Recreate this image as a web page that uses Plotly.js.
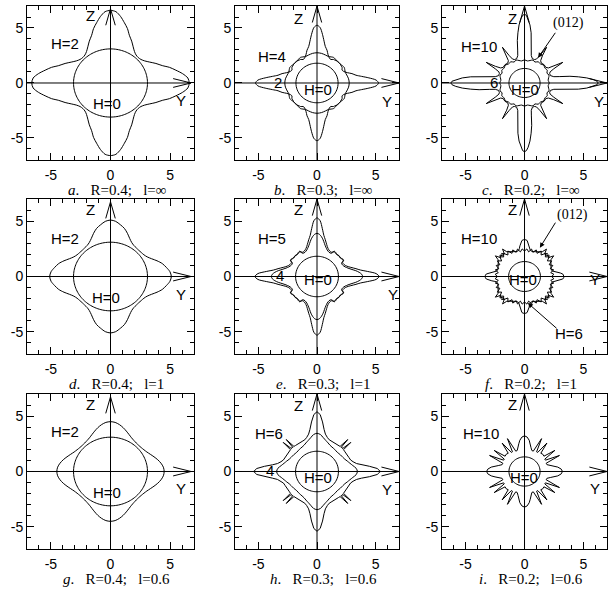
<!DOCTYPE html>
<html><head><meta charset="utf-8">
<script src="https://cdn.plot.ly/plotly-3.0.1.min.js"></script>
<style>html,body{margin:0;padding:0;background:#fff}#chart{width:608px;height:589px}</style>
</head><body><div id="chart"></div>
<script>
// ---- data (octant 0..45 deg measured from Y axis; 4-fold mirror symmetry) ----
const TICK_VALS = [-5, 0, 5];
const TICK_TEXT = ['-5', '0', '5'];
const MINOR_VALS = [-6, -4, -3, -2, -1, 1, 2, 3, 4, 6];

const ANG_FINE = [0, 5, 10, 15, 20, 25, 30, 35, 40, 45];

// a. R=0.4; l=inf
const rA_H0 = 3.1;
const angA_H2 = [0, 4, 8, 12, 16, 20, 25, 30, 35, 40, 45];
const rA_H2 = [6.6, 6.5, 6.1, 5.6, 5.15, 4.62, 4.2, 3.8, 3.5, 3.33, 3.28];
// b. R=0.3; l=inf
const rB_H0 = 1.8;
const angB_H2 = [0, 8, 16, 22, 27, 31, 36, 40, 45];
const rB_H2 = [2.75, 2.72, 2.64, 2.6, 2.66, 2.72, 2.68, 2.62, 2.62];
const angB_H4 = [0, 3, 6, 9, 12, 16, 20, 25, 29, 33, 37, 41, 45];
const rB_H4 = [5.25, 5.05, 4.45, 3.85, 3.4, 3.1, 2.75, 2.5, 2.44, 2.56, 2.58, 2.64, 2.64];
// c. R=0.2; l=inf
const rC_H0 = 1.32;
const angC_H6 = [0, 7, 13, 19, 25, 31, 38, 45];
const rC_H6 = [2.1, 2.02, 2.1, 2.2, 2.1, 2.25, 2.2, 2.3];
const angC_H10 = [0, 1.5, 3, 5, 7, 9, 11, 13, 17, 22, 25, 27.5, 30, 31.5, 34, 38, 45];
const rC_H10 = [6.25, 6.15, 5.85, 5.3, 4.6, 3.9, 3.05, 2.55, 2.3, 2.3, 2.4, 2.8, 3.75, 2.9, 2.45, 2.3, 2.35];
// d. R=0.4; l=1
const rD_H0 = 3.1;
const rD_H2 = [5.1, 5.0, 4.75, 4.5, 4.15, 3.8, 3.55, 3.42, 3.37, 3.35];
// e. R=0.3; l=1
const rE_H0 = 1.83;
const angE = [0, 3, 6, 9, 12, 16, 20, 25, 30, 33, 36, 40, 45];
const rE_H5 = [5.3, 5.05, 4.35, 3.75, 3.4, 3.0, 2.72, 2.55, 2.52, 2.72, 2.7, 2.62, 2.66];
const rE_H4 = [3.9, 3.82, 3.62, 3.35, 3.05, 2.75, 2.55, 2.42, 2.42, 2.66, 2.66, 2.6, 2.64];
// f. R=0.2; l=1
const rF_H0 = 1.35;
const angF_H6 = [0, 4.5, 9, 13.5, 18, 22.5, 27, 31.5, 36, 40.5, 45];
const rF_H6 = [2.3, 2.5, 2.25, 2.55, 2.3, 2.6, 2.35, 2.7, 2.4, 2.75, 2.5];
const angF_H10 = [0, 2, 4, 6, 8, 10, 12, 17, 22, 27, 31, 34, 37, 40, 43, 45];
const rF_H10 = [3.35, 3.32, 3.25, 3.05, 2.8, 2.55, 2.4, 2.35, 2.42, 2.5, 2.6, 2.7, 3.1, 2.65, 2.85, 2.65];
// g. R=0.4; l=0.6
const rG_H0 = 3.1;
const rG_H2 = [4.5, 4.45, 4.3, 4.1, 3.88, 3.68, 3.52, 3.42, 3.36, 3.34];
// h. R=0.3; l=0.6
const rH_H0 = 1.83;
const angH_H4 = [0, 5, 10, 15, 20, 25, 30, 37, 45];
const rH_H4 = [3.45, 3.35, 3.1, 2.9, 2.75, 2.62, 2.55, 2.5, 2.45];
const angH_H6 = [0, 3, 6, 9, 12, 16, 20, 25, 30, 35, 38, 41, 42.3, 43.5, 45];
const rH_H6 = [5.4, 5.15, 4.5, 3.85, 3.45, 3.2, 3.05, 3.0, 2.95, 2.95, 2.98, 3.0, 3.9, 3.0, 3.05];
// i. R=0.2; l=0.6
const rI_H0 = 1.32;
const angI_H10 = [0, 4, 8, 11, 14, 18, 22, 26, 30, 33, 36.5, 40, 45];
const rI_H10 = [3.22, 3.12, 2.85, 2.55, 2.25, 2.0, 1.98, 3.3, 2.05, 2.05, 3.2, 2.15, 2.2];

const PANEL_LETTERS = ['a', 'b', 'c', 'd', 'e', 'f', 'g', 'h', 'i'];
const PANEL_R = ['0.4', '0.3', '0.2', '0.4', '0.3', '0.2', '0.4', '0.3', '0.2'];
const PANEL_L = ['∞', '∞', '∞', '1', '1', '1', '0.6', '0.6', '0.6'];

// ---- helpers ----
function circle(r) { return { ang: ANG_FINE, r: ANG_FINE.map(() => r), shape: 'spline' }; }
function expand(ang, r) {
  const xs = [], ys = [], n = ang.length;
  const push = (deg, rad) => { const t = deg * Math.PI / 180; xs.push(rad * Math.cos(t)); ys.push(rad * Math.sin(t)); };
  for (let k = 0; k < 4; k++) {
    for (let i = 0; i < n; i++) push(90 * k + ang[i], r[i]);
    for (let i = n - 2; i >= 1; i--) push(90 * k + 90 - ang[i], r[i]);
  }
  xs.push(xs[0]); ys.push(ys[0]);
  return { xs, ys };
}

const X_DOM = [[0.0444, 0.3191], [0.3865, 0.6563], [0.727, 0.9984]];
const Y_DOM = [[0.7284, 0.9898], [0.399, 0.6621], [0.0679, 0.3311]];

const FONT = 'Liberation Sans, Arial, Helvetica, sans-serif';
const SERIF = 'Liberation Serif, Times New Roman, serif';
const SP = '\u00A0\u00A0\u00A0';

const panels = [
  { curves: [circle(rA_H0), { ang: angA_H2, r: rA_H2, shape: 'spline' }], tip: 6.75,
    labels: [['Z', -1.7, 6.1], ['H=2', -3.8, 3.6], ['H=0', -0.3, -1.85], ['Y', 5.9, -1.55]] },
  { curves: [circle(rB_H0), { ang: angB_H2, r: rB_H2, shape: 'spline' }, { ang: angB_H4, r: rB_H4, shape: 'spline' }], tip: 7,
    labels: [['Z', -1.6, 5.9], ['H=4', -3.8, 2.4], ['2', -3.3, 0.05], ['H=0', 0.1, -0.6], ['Y', 6.0, -1.66]] },
  { curves: [circle(rC_H0), { ang: angC_H6, r: rC_H6, shape: 'spline' }, { ang: angC_H10, r: rC_H10, shape: 'linear' }], tip: 7,
    labels: [['Z', -1.0, 5.9], ['H=10', -3.85, 3.3], ['6', -2.55, 0.05], ['H=0', 0.0, -0.6], ['Y', 6.3, -1.66]],
    note: { text: '(012)', x: 3.7, y: 5.5, ax: 2.7, ay: 4.7, hx: 1.15, hy: 2.3 } },
  { curves: [circle(rD_H0), { ang: ANG_FINE, r: rD_H2, shape: 'spline' }], tip: 6.75,
    labels: [['Z', -1.7, 6.06], ['H=2', -3.8, 3.45], ['H=0', -0.35, -1.9], ['Y', 5.9, -1.6]] },
  { curves: [circle(rE_H0), { ang: angE, r: rE_H5, shape: 'spline' }, { ang: angE, r: rE_H4, shape: 'spline' }], tip: 7,
    labels: [['Z', -1.6, 6.05], ['H=5', -3.84, 3.39], ['4', -3.16, 0.05], ['H=0', 0.1, -0.3], ['Y', 6.5, -1.6]] },
  { curves: [circle(rF_H0), { ang: angF_H6, r: rF_H6, shape: 'linear' }, { ang: angF_H10, r: rF_H10, shape: 'linear' }], tip: 7,
    labels: [['Z', -1.0, 6.05], ['H=10', -3.85, 3.4], ['H=0', -0.1, -0.25], ['Y', 6.0, -0.3], ['H=6', 3.75, -5.15]],
    note: { text: '(012)', x: 4.1, y: 5.6, ax: 2.7, ay: 5.0, hx: 1.3, hy: 2.6 },
    note2: { ax: 2.85, ay: -4.8, hx: 0.28, hy: -2.4 } },
  { curves: [circle(rG_H0), { ang: ANG_FINE, r: rG_H2, shape: 'spline' }], tip: 6.75,
    labels: [['Z', -1.7, 6.06], ['H=2', -3.8, 3.58], ['H=0', -0.28, -1.94], ['Y', 5.9, -1.57]] },
  { curves: [circle(rH_H0), { ang: angH_H4, r: rH_H4, shape: 'spline' }, { ang: angH_H6, r: rH_H6, shape: 'linear' }], tip: 7,
    labels: [['Z', -1.6, 6.0], ['H=6', -4.1, 3.4], ['4', -4.0, 0.05], ['H=0', 0.1, -0.5], ['Y', 6.0, -1.6]] },
  { curves: [circle(rI_H0), { ang: angI_H10, r: rI_H10, shape: 'linear' }], tip: 7,
    labels: [['Z', -1.0, 6.06], ['H=10', -3.7, 3.4], ['H=0', -0.05, -0.5], ['Y', 6.0, -1.57]] }
];

const traces = [];
const layout = {
  width: 608, height: 589, margin: { l: 0, r: 0, t: 0, b: 0 },
  paper_bgcolor: '#fff', plot_bgcolor: '#fff', showlegend: false,
  annotations: [], shapes: []
};

panels.forEach((p, idx) => {
  const col = idx % 3, row = Math.floor(idx / 3);
  const n = idx === 0 ? '' : String(idx + 1);
  const xid = 'x' + n, yid = 'y' + n;
  const base = {
    range: [-7, 7], tickmode: 'array', tickvals: TICK_VALS, ticktext: TICK_TEXT,
    ticks: 'inside', ticklen: 7, tickwidth: 1, tickcolor: '#000',
    mirror: 'allticks', showline: true, linecolor: '#000', linewidth: 1,
    showgrid: false, zeroline: false, fixedrange: true,
    minor: { tickmode: 'array', tickvals: MINOR_VALS, ticks: 'inside', ticklen: 4, tickcolor: '#000', tickwidth: 1, showgrid: false },
    tickfont: { family: FONT, size: 14, color: '#000' }
  };
  layout['xaxis' + n] = Object.assign({}, base, { domain: X_DOM[col], anchor: yid, ticklabelstandoff: 2 });
  layout['yaxis' + n] = Object.assign({}, base, { domain: Y_DOM[row], anchor: xid });

  p.curves.forEach(c => {
    const e = expand(c.ang, c.r);
    traces.push({ type: 'scatter', mode: 'lines', x: e.xs, y: e.ys, xaxis: xid, yaxis: yid,
      line: { color: '#000', width: 1, shape: c.shape, smoothing: 0.8 }, hoverinfo: 'skip' });
  });

  const T = p.tip;
  layout.shapes.push({ type: 'path', xref: xid, yref: yid, line: { color: '#000', width: 1 },
    path: `M -7,0 L ${T},0 M ${T - 1.5},0.4 L ${T},0 L ${T - 1.5},-0.4 M 0,-7 L 0,${T} M -0.4,${T - 1.5} L 0,${T} L 0.4,${T - 1.5}` });

  p.labels.forEach(l => {
    layout.annotations.push({ text: l[0], x: l[1], y: l[2], xref: xid, yref: yid, showarrow: false,
      font: { family: FONT, size: 15, color: '#000' } });
  });
  if (p.note) {
    layout.annotations.push({ text: p.note.text, x: p.note.x, y: p.note.y, xref: xid, yref: yid, showarrow: false,
      font: { family: SERIF, size: 14, color: '#000' } });
    layout.annotations.push({ text: '', x: p.note.hx, y: p.note.hy, ax: p.note.ax, ay: p.note.ay,
      xref: xid, yref: yid, axref: xid, ayref: yid, showarrow: true, arrowhead: 2, arrowsize: 1, arrowwidth: 1, arrowcolor: '#000' });
  }
  if (p.note2) {
    layout.annotations.push({ text: '', x: p.note2.hx, y: p.note2.hy, ax: p.note2.ax, ay: p.note2.ay,
      xref: xid, yref: yid, axref: xid, ayref: yid, showarrow: true, arrowhead: 2, arrowsize: 1, arrowwidth: 1, arrowcolor: '#000' });
  }
  const bottomPx = (1 - Y_DOM[row][0]) * 589;
  layout.annotations.push({
    text: '<i>' + PANEL_LETTERS[idx] + '</i>.' + SP + 'R=' + PANEL_R[idx] + ';' + SP + 'l=' + PANEL_L[idx],
    xref: 'paper', yref: 'paper', x: (X_DOM[col][0] + X_DOM[col][1]) / 2 + 0.01, y: 1 - (bottomPx + 30) / 589,
    xanchor: 'center', yanchor: 'middle', showarrow: false, font: { family: SERIF, size: 15, color: '#000' }
  });
});

Plotly.newPlot('chart', traces, layout, { staticPlot: true, displayModeBar: false });
</script></body></html>
